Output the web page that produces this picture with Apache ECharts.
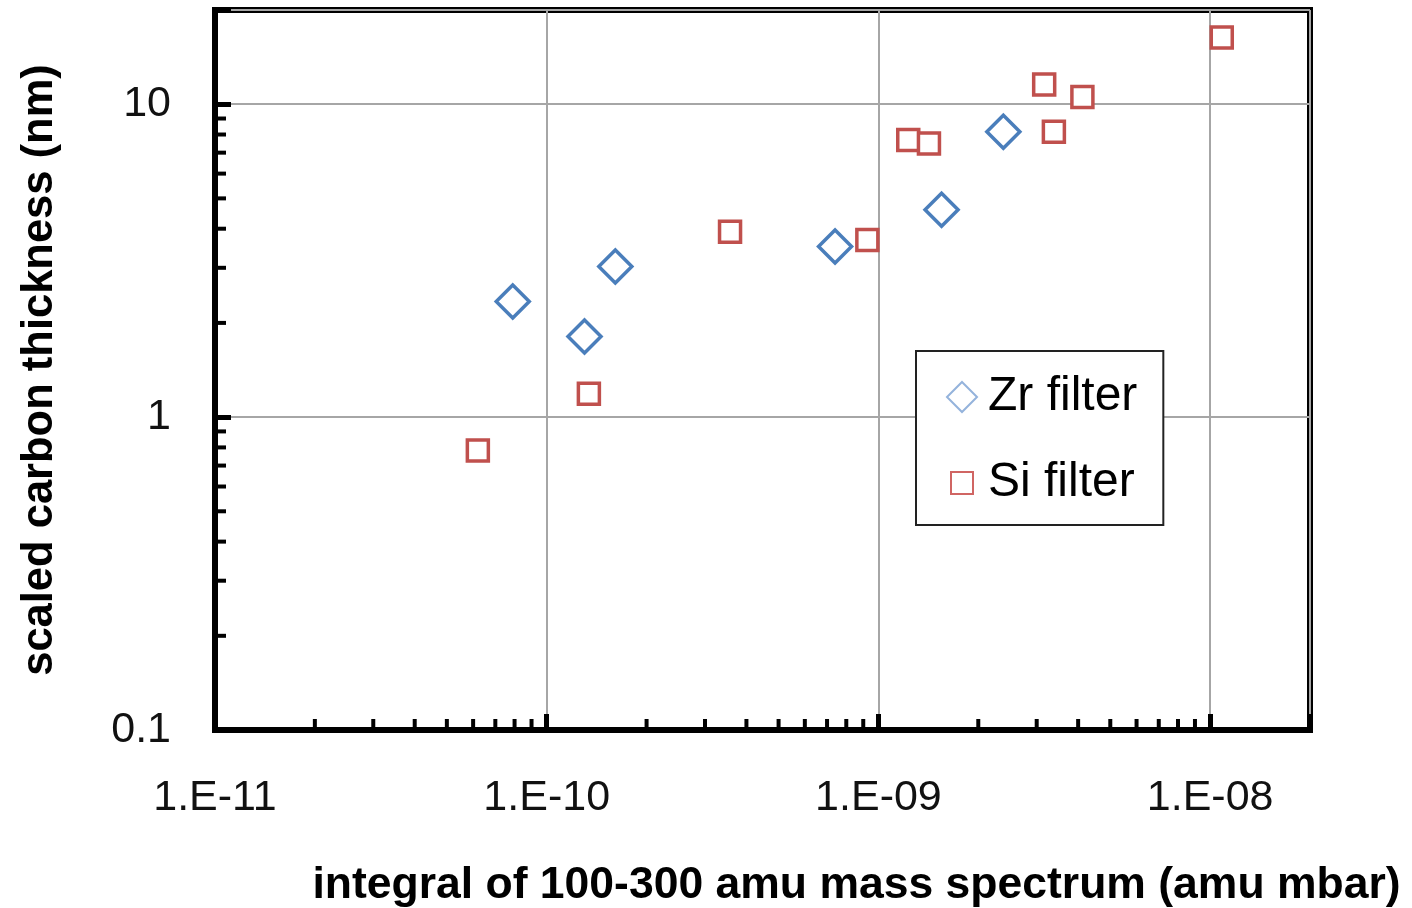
<!DOCTYPE html>
<html>
<head>
<meta charset="utf-8">
<script src="https://cdn.jsdelivr.net/npm/echarts@6/dist/echarts.min.js"></script>
<style>html,body{margin:0;padding:0;background:#fff;}#c{width:1412px;height:908px;}</style>
</head>
<body>
<div id="c"></div>
<script>
// ---- data ----
const zrX = [7.9e-11, 1.30e-10, 1.61e-10, 7.4e-10, 1.55e-9, 2.38e-9];
const zrY = [2.34, 1.81, 3.03, 3.51, 4.60, 8.16];
const siX = [6.2e-11, 1.34e-10, 3.57e-10, 9.26e-10, 1.23e-9, 1.42e-9, 3.16e-9, 3.38e-9, 4.12e-9, 1.084e-8];
const siY = [0.782, 1.187, 3.91, 3.68, 7.69, 7.49, 11.56, 8.16, 10.55, 16.33];
const seriesNames = ['Zr filter', 'Si filter'];
const xTitle = 'integral of 100-300 amu mass spectrum (amu mbar)';
const yTitle = 'scaled carbon thickness (nm)';
const xMin = 1e-11, xMax = 2e-8, yMin = 0.1, yMax = 20;
const xDecades = [-11, -10, -9, -8];
const yDecades = [-1, 0, 1];
const minorMult = [2, 3, 4, 5, 6, 7, 8, 9];

function isPow10(v) {
  const e = Math.round(Math.log10(v));
  return Math.abs(v / Math.pow(10, e) - 1) < 1e-6 ? e : null;
}
function fmtX(v) {
  const e = isPow10(v);
  if (e === null) return '';
  const a = Math.abs(e);
  return '1.E' + (e < 0 ? '-' : '+') + (a < 10 ? '0' + a : a);
}
function fmtY(v) {
  const e = isPow10(v);
  if (e === null) return '';
  return String(Number(Math.pow(10, e).toPrecision(3)));
}

const minorX = [];
xDecades.forEach(d => minorMult.forEach(m => { const v = m * Math.pow(10, d); if (v < xMax) minorX.push([v, yMin]); }));
const minorY = [];
yDecades.forEach(d => minorMult.forEach(m => { const v = m * Math.pow(10, d); if (v < yMax) minorY.push([xMin, v]); }));

const chart = echarts.init(document.getElementById('c'), null, {renderer: 'canvas'});
const FONT = '"Liberation Sans", Arial, sans-serif';

const option = {
  backgroundColor: '#fff',
  animation: false,
  grid: {left: 215, right: 102, top: 10, bottom: 178, show: true, borderColor: '#000', borderWidth: 6,
         containLabel: false, outerBoundsMode: 'none'},
  xAxis: {
    type: 'log', logBase: 10, min: xMin, max: xMax,
    name: xTitle, nameLocation: 'middle', nameGap: 133,
    nameTextStyle: {fontFamily: FONT, fontWeight: 'bold', fontSize: 44.5, color: '#000', padding: [0, 0, 0, 188]},
    axisLine: {show: true, lineStyle: {color: '#000', width: 6}},
    axisTick: {show: true, inside: true, length: 16, lineStyle: {color: '#000', width: 5}},
    axisLabel: {formatter: fmtX, fontFamily: FONT, fontSize: 43, color: '#111', margin: 47},
    splitLine: {show: true, lineStyle: {color: '#a6a6a6', width: 2}},
    minorTick: {show: false}
  },
  yAxis: {
    type: 'log', logBase: 10, min: yMin, max: yMax,
    name: yTitle, nameLocation: 'middle', nameGap: 153, nameRotate: 90,
    nameTextStyle: {fontFamily: FONT, fontWeight: 'bold', fontSize: 43.5, color: '#000', padding: [0, 0, 0, 0]},
    axisLine: {show: true, lineStyle: {color: '#000', width: 6}},
    axisTick: {show: true, inside: true, length: 16, lineStyle: {color: '#000', width: 5}},
    axisLabel: {formatter: fmtY, fontFamily: FONT, fontSize: 43, color: '#111', margin: 44},
    splitLine: {show: true, lineStyle: {color: '#a6a6a6', width: 2}}
  },
  legend: {
    show: true, orient: 'vertical', left: 916, top: 351,
    padding: [22, 26, 18, 30], itemGap: 38, itemWidth: 30, itemHeight: 30,
    backgroundColor: '#fff', borderColor: '#222', borderWidth: 2, borderRadius: 0,
    textStyle: {fontFamily: FONT, fontSize: 48, color: '#000', padding: [0, 0, 0, 6]},
    data: [
      {name: seriesNames[0], icon: 'diamond', itemStyle: {color: '#fff', borderColor: '#94b3dc', borderWidth: 2}},
      {name: seriesNames[1], icon: 'path://M0,0M30,30M4,4L26,4L26,26L4,26Z', itemStyle: {color: '#fff', borderColor: '#d06563', borderWidth: 2}}
    ]
  },
  series: [
    {
      name: seriesNames[0], type: 'scatter', symbol: 'diamond', symbolSize: 33, z: 5,
      itemStyle: {color: '#fff', borderColor: '#4a7ebb', borderWidth: 3.5, opacity: 1},
      data: zrX.map((x, i) => [x, zrY[i]])
    },
    {
      name: seriesNames[1], type: 'scatter', symbol: 'rect', symbolSize: 21, z: 5,
      itemStyle: {color: '#fff', borderColor: '#c0504d', borderWidth: 3.5, opacity: 1},
      data: siX.map((x, i) => [x, siY[i]])
    },
    {
      type: 'custom', name: 'xminor', silent: true, clip: false, z: 10,
      renderItem: function (params, api) {
        const p = api.coord([api.value(0), api.value(1)]);
        return {type: 'line', shape: {x1: p[0], y1: p[1], x2: p[0], y2: p[1] - 11}, style: {stroke: '#000', lineWidth: 4}};
      },
      data: minorX
    },
    {
      type: 'custom', name: 'yminor', silent: true, clip: false, z: 10,
      renderItem: function (params, api) {
        const p = api.coord([api.value(0), api.value(1)]);
        return {type: 'line', shape: {x1: p[0], y1: p[1], x2: p[0] + 11, y2: p[1]}, style: {stroke: '#000', lineWidth: 4}};
      },
      data: minorY
    }
  ]
};
chart.setOption(option);
</script>
</body>
</html>
